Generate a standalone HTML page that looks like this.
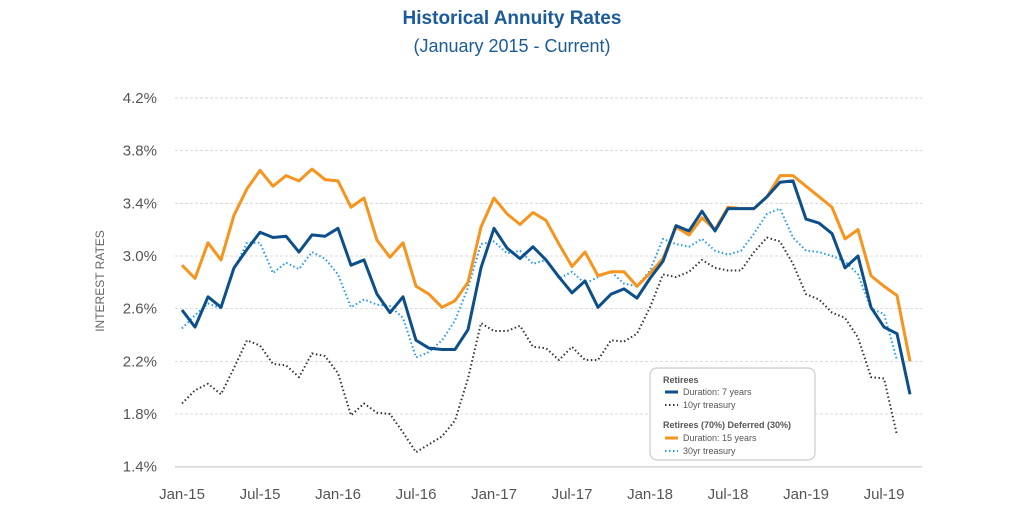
<!DOCTYPE html>
<html><head><meta charset="utf-8"><style>
body{margin:0;background:#fff;font-family:"Liberation Sans",sans-serif}
svg text{font-family:"Liberation Sans",sans-serif}
</style></head><body>
<svg id="chart" width="1024" height="512" viewBox="0 0 1024 512">
<text x="512" y="24" text-anchor="middle" font-size="19" font-weight="bold" fill="#1b5b9a">Historical Annuity Rates</text>
<text x="512" y="52" text-anchor="middle" font-size="18" fill="#1b5b9a">(January 2015 - Current)</text>
<text transform="translate(104,281) rotate(-90)" text-anchor="middle" font-size="12" fill="#666">INTEREST RATES</text>
<g id="grid"></g><g id="series"></g>
<g>
<rect x="650" y="368" width="165" height="92" rx="7" fill="#fff" stroke="#ccc" stroke-width="1.2"/>
<text x="663" y="383" font-size="9" font-weight="bold" fill="#555">Retirees</text>
<line x1="665" y1="392" x2="678" y2="392" stroke="#0d4f8b" stroke-width="3"/>
<text x="683" y="395" font-size="9" fill="#555">Duration: 7 years</text>
<line x1="665" y1="405" x2="678" y2="405" stroke="#333" stroke-width="2" stroke-dasharray="1.5,2.5"/>
<text x="683" y="408" font-size="9" fill="#555">10yr treasury</text>
<text x="663" y="428" font-size="9" font-weight="bold" fill="#555">Retirees (70%) Deferred (30%)</text>
<line x1="665" y1="438" x2="678" y2="438" stroke="#f7941d" stroke-width="3"/>
<text x="683" y="441" font-size="9" fill="#555">Duration: 15 years</text>
<line x1="665" y1="451" x2="678" y2="451" stroke="#1e9af0" stroke-width="2" stroke-dasharray="1.5,2.5"/>
<text x="683" y="454" font-size="9" fill="#555">30yr treasury</text>
</g>
</svg>
<script>
const yTicks=[1.4,1.8,2.2,2.6,3.0,3.4,3.8,4.2];
const xTickLabels=["Jan-15","Jul-15","Jan-16","Jul-16","Jan-17","Jul-17","Jan-18","Jul-18","Jan-19","Jul-19"];
const dur15=[2.93,2.83,3.10,2.97,3.31,3.51,3.65,3.53,3.61,3.57,3.66,3.58,3.57,3.37,3.44,3.12,2.99,3.10,2.77,2.71,2.61,2.66,2.80,3.22,3.44,3.32,3.24,3.33,3.27,3.09,2.92,3.03,2.85,2.88,2.88,2.77,2.87,2.98,3.22,3.16,3.29,3.20,3.37,3.36,3.36,3.45,3.61,3.61,3.53,3.45,3.37,3.13,3.20,2.85,2.77,2.70,2.20];
const dur7=[2.59,2.46,2.69,2.61,2.91,3.05,3.18,3.14,3.15,3.03,3.16,3.15,3.21,2.93,2.97,2.71,2.57,2.69,2.36,2.30,2.29,2.29,2.44,2.91,3.21,3.06,2.98,3.07,2.97,2.84,2.72,2.81,2.61,2.71,2.75,2.68,2.83,2.96,3.23,3.19,3.34,3.19,3.36,3.36,3.36,3.45,3.56,3.57,3.28,3.25,3.17,2.91,3.00,2.61,2.46,2.41,1.95];
const tr30=[2.45,2.55,2.64,2.60,2.90,3.10,3.10,2.87,2.95,2.90,3.03,2.98,2.86,2.61,2.67,2.63,2.62,2.53,2.23,2.27,2.36,2.51,2.76,3.09,3.11,3.02,3.04,2.94,2.97,2.83,2.88,2.79,2.84,2.88,2.79,2.77,2.89,3.13,3.09,3.07,3.13,3.04,3.01,3.04,3.17,3.32,3.36,3.14,3.04,3.03,3.00,2.96,2.86,2.60,2.56,2.21];
const tr10=[1.88,1.98,2.03,1.95,2.15,2.36,2.32,2.18,2.17,2.08,2.26,2.24,2.11,1.79,1.88,1.81,1.80,1.66,1.51,1.57,1.63,1.75,2.07,2.49,2.43,2.43,2.47,2.31,2.30,2.21,2.31,2.21,2.21,2.36,2.35,2.41,2.61,2.86,2.84,2.88,2.97,2.91,2.89,2.89,3.03,3.14,3.11,2.94,2.71,2.67,2.57,2.53,2.38,2.08,2.07,1.64];
const NS="http://www.w3.org/2000/svg";
const X=i=>182+i*13;
const Y=v=>466.7-(v-1.4)*131.7;
const grid=document.getElementById('grid'),ser=document.getElementById('series');
function mk(tag,attrs,parent){const e=document.createElementNS(NS,tag);for(const k in attrs)e.setAttribute(k,attrs[k]);parent.appendChild(e);return e;}
yTicks.forEach((t,i)=>{
  const l=mk('line',{x1:175,x2:922,y1:Y(t),y2:Y(t),stroke:i==0?'#d6d6d6':'#d0d0d0','stroke-width':i==0?1.5:0.8,'stroke-dasharray':i==0?'none':'3,2'},grid);
  
  
  const tx=mk('text',{x:157,y:Y(t)+5,'text-anchor':'end','font-size':15,fill:'#555'},grid);
  tx.textContent=t.toFixed(1)+'%';
  
  
});
xTickLabels.forEach((s,i)=>{
  const tx=mk('text',{x:X(i*6),y:499,'text-anchor':'middle','font-size':15,fill:'#555'},grid);
  tx.textContent=s;
  
  
});
function line(arr,color,w,dash,name){
  const p=mk('polyline',{points:arr.map((v,i)=>X(i)+','+Y(v)).join(' '),fill:'none',stroke:color,'stroke-width':w,'stroke-linejoin':'round','stroke-dasharray':dash},ser);
  
  
}
line(tr10,'#333',2,'1.5,2.5','line-10yr-treasury');
line(tr30,'#1e9af0',2,'1.5,2.5','line-30yr-treasury');
line(dur15,'#f7941d',3,'none','line-duration-15yr');
line(dur7,'#0d4f8b',3,'none','line-duration-7yr');
</script>
</body></html>
